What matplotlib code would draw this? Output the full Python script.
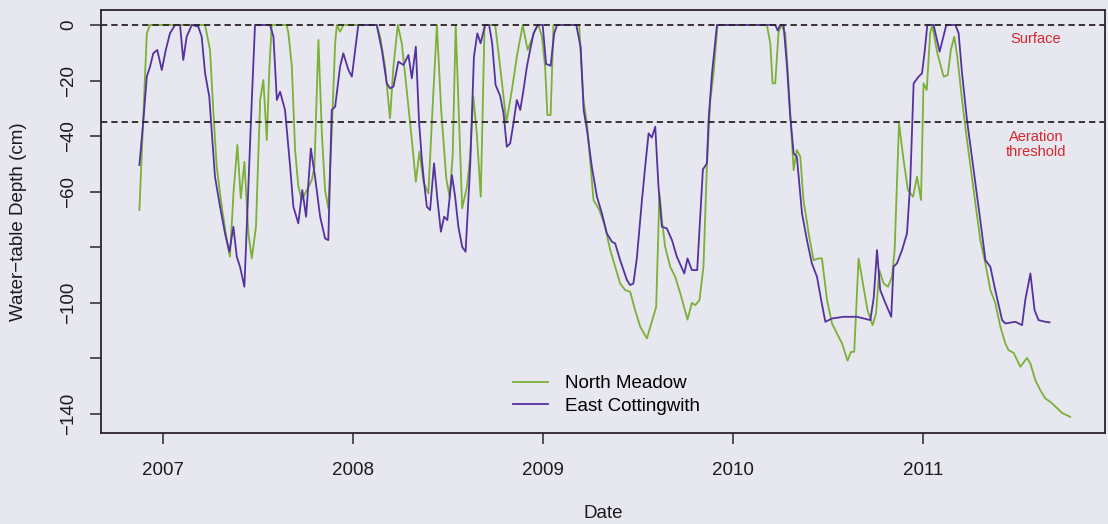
import matplotlib
matplotlib.use("Agg")
import matplotlib.pyplot as plt

# Water-table depth readings (decimal year, depth in cm)
north_meadow = [
    (2006.874, -66.6), (2006.913, -3), (2006.930, 0), (2007.220, 0), (2007.246, -9),
    (2007.263, -30.6), (2007.281, -51), (2007.308, -65.4), (2007.334, -77.4), (2007.351, -83.4),
    (2007.370, -60), (2007.390, -43.2), (2007.408, -62.4), (2007.427, -49.2), (2007.448, -75),
    (2007.466, -84), (2007.488, -72.6), (2007.510, -27), (2007.527, -19.8), (2007.545, -41.4),
    (2007.559, -15), (2007.571, 0), (2007.650, 0), (2007.659, -3), (2007.677, -15),
    (2007.694, -45), (2007.711, -58), (2007.729, -63), (2007.756, -59.4), (2007.782, -55.8),
    (2007.796, -51), (2007.817, -5.4), (2007.835, -39), (2007.852, -59.4), (2007.869, -66),
    (2007.887, -39), (2007.905, -6.6), (2007.914, 0), (2007.931, -2.4), (2007.948, 0),
    (2008.124, 0), (2008.142, -4.2), (2008.168, -15), (2008.194, -33.6), (2008.212, -15),
    (2008.235, 0), (2008.256, -6.6), (2008.282, -23.4), (2008.309, -41.4), (2008.330, -56.4),
    (2008.349, -45.6), (2008.370, -56.4), (2008.396, -60.6), (2008.418, -30), (2008.441, 0),
    (2008.463, -30), (2008.490, -55), (2008.508, -62), (2008.524, -47), (2008.540, 0),
    (2008.560, -39), (2008.574, -66), (2008.599, -58.3), (2008.616, -47.4), (2008.633, -25.8),
    (2008.651, -39), (2008.672, -61.8), (2008.692, 0), (2008.748, 0), (2008.774, -15),
    (2008.807, -35), (2008.836, -23.4), (2008.862, -11.4), (2008.893, 0), (2008.919, -9),
    (2008.959, -1.8), (2008.976, 0), (2008.994, -4.2), (2009.011, -15), (2009.023, -32.4),
    (2009.040, -32.4), (2009.055, 0), (2009.190, 0), (2009.213, -27), (2009.232, -36),
    (2009.266, -63), (2009.297, -66.6), (2009.327, -72.6), (2009.354, -81), (2009.380, -87),
    (2009.406, -93), (2009.433, -95.4), (2009.459, -96), (2009.485, -102.6), (2009.512, -108.6),
    (2009.547, -112.8), (2009.573, -106.8), (2009.596, -101.4), (2009.613, -60.6), (2009.626, -70),
    (2009.643, -79.8), (2009.670, -87), (2009.696, -90.6), (2009.723, -96.6), (2009.761, -106),
    (2009.784, -100), (2009.802, -100.8), (2009.824, -99), (2009.845, -87), (2009.863, -51),
    (2009.881, -27), (2009.898, -17.4), (2009.919, 0), (2010.179, 0), (2010.197, -6.6),
    (2010.209, -21), (2010.223, -21), (2010.240, -3), (2010.253, 0), (2010.276, -3),
    (2010.293, -21), (2010.311, -41.4), (2010.320, -52.2), (2010.337, -45), (2010.355, -47.4),
    (2010.372, -63), (2010.399, -75), (2010.425, -84.6), (2010.451, -84), (2010.469, -84),
    (2010.496, -99), (2010.522, -107.4), (2010.548, -111), (2010.575, -114.6), (2010.604, -120.8),
    (2010.622, -117.6), (2010.639, -117.6), (2010.662, -84), (2010.688, -94.2), (2010.709, -102.6),
    (2010.736, -108), (2010.754, -103.8), (2010.771, -88.2), (2010.794, -93), (2010.817, -94.2),
    (2010.838, -90.6), (2010.852, -81), (2010.875, -35.4), (2010.899, -48.6), (2010.922, -59.4),
    (2010.949, -61.8), (2010.970, -54.6), (2010.991, -63), (2011.004, -21), (2011.021, -23.4),
    (2011.039, -3), (2011.050, 0), (2011.077, -10.2), (2011.110, -18.6), (2011.132, -18),
    (2011.148, -9), (2011.166, -4.2), (2011.182, -11.4), (2011.207, -27), (2011.233, -41.4),
    (2011.268, -59.4), (2011.303, -77.4), (2011.330, -85.8), (2011.356, -95.4), (2011.382, -100),
    (2011.409, -108.6), (2011.435, -114.6), (2011.452, -117), (2011.479, -118), (2011.514, -123),
    (2011.549, -119.8), (2011.567, -121.8), (2011.593, -127.8), (2011.619, -131.4), (2011.646, -134.4),
    (2011.672, -135.6), (2011.707, -137.8), (2011.734, -139.6), (2011.777, -141),
]

east_cottingwith = [
    (2006.874, -50.4), (2006.895, -34.2), (2006.913, -18.6), (2006.930, -15), (2006.947, -10.2),
    (2006.968, -9), (2006.992, -16.2), (2007.013, -9), (2007.035, -3), (2007.062, 0),
    (2007.088, 0), (2007.105, -12.6), (2007.123, -4.2), (2007.150, 0), (2007.184, -0.6),
    (2007.202, -4.2), (2007.220, -17.4), (2007.242, -25.8), (2007.272, -54.6), (2007.299, -65.4),
    (2007.325, -75), (2007.348, -81.6), (2007.369, -72.6), (2007.387, -83.4), (2007.404, -87),
    (2007.427, -94.2), (2007.448, -58), (2007.466, -27), (2007.483, 0), (2007.562, 0),
    (2007.580, -4.2), (2007.598, -27), (2007.615, -24), (2007.641, -30.6), (2007.668, -51),
    (2007.685, -65.4), (2007.711, -71.4), (2007.732, -59.4), (2007.752, -69), (2007.777, -44.4),
    (2007.799, -54.6), (2007.826, -69), (2007.852, -76.8), (2007.869, -77.4), (2007.887, -30.6),
    (2007.905, -29.4), (2007.931, -15), (2007.948, -10.2), (2007.975, -16.2), (2007.993, -18.6),
    (2008.027, 0), (2008.124, 0), (2008.151, -9), (2008.177, -21), (2008.194, -22.8),
    (2008.212, -22.2), (2008.238, -13.2), (2008.265, -14.4), (2008.291, -10.8), (2008.309, -19.2),
    (2008.330, -7.8), (2008.347, -35), (2008.362, -48.6), (2008.374, -57), (2008.388, -65.4),
    (2008.405, -66.6), (2008.426, -49.8), (2008.444, -63), (2008.462, -74.4), (2008.479, -69),
    (2008.496, -70.2), (2008.520, -54), (2008.537, -61.8), (2008.554, -72.6), (2008.574, -79.8),
    (2008.592, -81.6), (2008.616, -51), (2008.636, -11.4), (2008.654, -3), (2008.671, -6.6),
    (2008.695, 0), (2008.716, 0), (2008.732, -6.6), (2008.750, -21.6), (2008.774, -25.5),
    (2008.792, -31.8), (2008.809, -43.8), (2008.827, -42.6), (2008.844, -35.4), (2008.862, -27),
    (2008.880, -30.6), (2008.897, -23.4), (2008.915, -15), (2008.932, -9), (2008.950, -3),
    (2008.972, 0), (2008.998, 0), (2009.016, -14), (2009.040, -14.7), (2009.059, -3),
    (2009.074, 0), (2009.175, 0), (2009.198, -8), (2009.214, -30.6), (2009.232, -38),
    (2009.257, -51), (2009.284, -61.8), (2009.310, -67.8), (2009.336, -75), (2009.363, -78),
    (2009.380, -78.6), (2009.406, -84.6), (2009.442, -91.8), (2009.459, -93.6), (2009.476, -93),
    (2009.494, -84), (2009.521, -63), (2009.538, -51), (2009.556, -39), (2009.573, -40.5),
    (2009.591, -36.6), (2009.608, -58), (2009.626, -72.6), (2009.652, -73.2), (2009.679, -77.4),
    (2009.705, -83.4), (2009.744, -89.4), (2009.761, -84), (2009.784, -88.2), (2009.812, -88.2),
    (2009.842, -52), (2009.863, -49.8), (2009.872, -34.2), (2009.890, -17.4), (2009.916, 0),
    (2010.223, 0), (2010.236, -2), (2010.249, 0), (2010.267, 0), (2010.285, -15),
    (2010.302, -33), (2010.320, -46.2), (2010.337, -47.4), (2010.364, -67.8), (2010.390, -77.4),
    (2010.416, -85.8), (2010.443, -90.6), (2010.465, -99), (2010.487, -106.8), (2010.522, -105.6),
    (2010.583, -105), (2010.654, -105), (2010.688, -105.6), (2010.724, -106.2), (2010.742, -98),
    (2010.759, -81), (2010.776, -95.4), (2010.803, -100), (2010.834, -105), (2010.846, -87),
    (2010.864, -85.8), (2010.891, -81), (2010.917, -75), (2010.934, -57), (2010.952, -21),
    (2010.978, -18.6), (2010.996, -17.4), (2011.011, -9), (2011.024, 0), (2011.057, 0),
    (2011.089, -9.6), (2011.124, 0), (2011.172, 0), (2011.189, -3), (2011.207, -17.4),
    (2011.233, -34.2), (2011.268, -52.2), (2011.303, -70.2), (2011.330, -84.6), (2011.356, -87),
    (2011.382, -95.4), (2011.418, -106.2), (2011.435, -107.4), (2011.488, -106.8), (2011.523, -108),
    (2011.540, -99), (2011.567, -89.4), (2011.589, -102.6), (2011.610, -106.2), (2011.646, -106.8),
    (2011.668, -107),
]

surface_depth = 0
aeration_depth = -35
year_ticks = [2007, 2008, 2009, 2010, 2011]
depth_ticks = [0, -20, -40, -60, -80, -100, -120, -140]
depth_labels = ["0", "\u221220", "\u221240", "\u221260", "", "\u2212100", "", "\u2212140"]

bg = "#e6e7ef"
ink = "#2e2328"

plt.rcParams["font.family"] = ["Liberation Sans", "DejaVu Sans"]

fig = plt.figure(figsize=(11.08, 5.24), dpi=100, facecolor=bg)
ax = fig.add_axes([0.0912, 0.1737, 0.9061, 0.8073], facecolor=bg)

nm_x, nm_y = zip(*north_meadow)
ec_x, ec_y = zip(*east_cottingwith)
ax.plot(nm_x, nm_y, color="#7cb036", lw=1.3, label="North Meadow")
ax.plot(ec_x, ec_y, color="#5532a0", lw=1.3, label="East Cottingwith")

for d in (surface_depth, aeration_depth):
    ax.axhline(d, color=ink, lw=1.3, linestyle=(0, (3.5, 2.2)))

ax.text(2011.597, -5, "Surface", color="#d8262c", fontsize=10.5, ha="center", va="center")
ax.text(2011.597, -43, "Aeration\nthreshold", color="#d8262c", fontsize=10.5,
        ha="center", va="center", linespacing=1.1)

ax.set_xlim(2006.672, 2011.960)
ax.set_ylim(-146.8, 5.4)
ax.set_xticks(year_ticks)
ax.set_xticklabels([str(y) for y in year_ticks])
ax.set_yticks(depth_ticks)
ax.set_yticklabels(depth_labels, rotation=90, va="center")
ax.tick_params(direction="out", length=8, width=1.1, color=ink, labelsize=13.5,
               labelcolor="#1e1a1c")
ax.tick_params(axis="x", pad=13)
ax.tick_params(axis="y", pad=9)

for s in ax.spines.values():
    s.set_color(ink)
    s.set_linewidth(1.3)

ax.set_xlabel("Date", fontsize=13.5, color="#1e1a1c")
ax.xaxis.set_label_coords(0.5, (433 - 514) / 423)
ax.xaxis.label.set_verticalalignment("center")
ax.set_ylabel("Water\u2212table Depth (cm)", fontsize=13.5, color="#1e1a1c")
ax.yaxis.set_label_coords((18 - 101) / 1004, 0.5)
ax.yaxis.label.set_verticalalignment("center")

ax.legend(loc="center", bbox_to_anchor=(606.5 / 1108, 1 - 395 / 524),
          bbox_transform=fig.transFigure, frameon=False, fontsize=13.5,
          handlelength=1.9, handletextpad=0.9, labelspacing=0.3, borderpad=0)

fig.savefig("out.png", dpi=100, facecolor=bg)
